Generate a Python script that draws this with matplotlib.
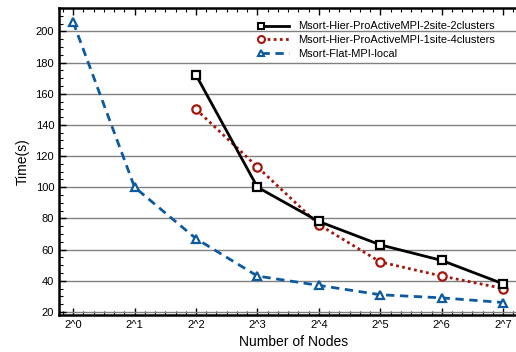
import matplotlib.pyplot as plt
from matplotlib.lines import Line2D
from matplotlib.ticker import MultipleLocator, AutoMinorLocator

plt.rcParams['font.family'] = ['Liberation Sans', 'DejaVu Sans']

# log2 of node count
nodes_hier = [2, 3, 4, 5, 6, 7]
nodes_flat = [0, 1, 2, 3, 4, 5, 6, 7]
t_2site = [172, 100, 78, 63, 53, 38]
t_1site = [150, 113, 76, 52, 43, 35]
t_flat = [206, 100, 67, 43, 37, 31, 29, 26]
xlabels = ['2^0', '2^1', '2^2', '2^3', '2^4', '2^5', '2^6', '2^7']

black = 'black'
red = '#a3170e'
blue = '#0d5a9e'
styles = [(black, '-', 's'), (red, (0, (1, 1.2)), 'o'), (blue, (0, (3, 2)), '^')]

fig = plt.figure(figsize=(5.16, 3.52), dpi=100)
ax = fig.add_axes([59/516, 1 - 315/352, 470/516, 307/352])

for (c, ls, m), x, y, z in zip(styles, [nodes_hier, nodes_hier, nodes_flat],
                               [t_2site, t_1site, t_flat], [5, 4, 3]):
    ax.plot(x, y, color=c, lw=2, ls=ls, marker=m, ms=6,
            mfc='white', mec=c, mew=1.6, zorder=z)

ax.set_xlim(-0.23, 7.42)
ax.set_ylim(18, 215)
ax.set_xticks(nodes_flat)
ax.set_xticklabels(xlabels)
ax.xaxis.set_minor_locator(AutoMinorLocator(6))
ax.yaxis.set_major_locator(MultipleLocator(20))
ax.yaxis.set_minor_locator(AutoMinorLocator(4))
ax.tick_params(which='both', direction='in', top=True, right=True, labelsize=8)
ax.tick_params(which='major', length=5, width=1)
ax.tick_params(which='minor', length=3, width=0.8)
ax.grid(axis='y', which='major', color='#808080', lw=1)
ax.set_axisbelow(True)
for s in ax.spines.values():
    s.set_linewidth(1.8)

ax.set_xlabel('Number of Nodes', fontsize=10)
ax.set_ylabel('Time(s)', fontsize=10)

handles = [Line2D([], [], color=c, lw=2, ls=ls, marker=m, ms=5, mfc='white',
                  mec=c, mew=1.5) for c, ls, m in styles]
labels = ['Msort-Hier-ProActiveMPI-2site-2clusters',
          'Msort-Hier-ProActiveMPI-1site-4clusters',
          'Msort-Flat-MPI-local']
leg = fig.legend(handles, labels, loc='upper left',
                 bbox_to_anchor=(252/516, 1 - 16/352), numpoints=2,
                 fontsize=7.9, frameon=False, handlelength=3.2,
                 handletextpad=0.5, labelspacing=0.35, borderpad=0)
# keep only the marker at the left end of each key
for h in leg.legend_handles:
    h.set_markevery([0])

fig.savefig('out.png', dpi=100)
